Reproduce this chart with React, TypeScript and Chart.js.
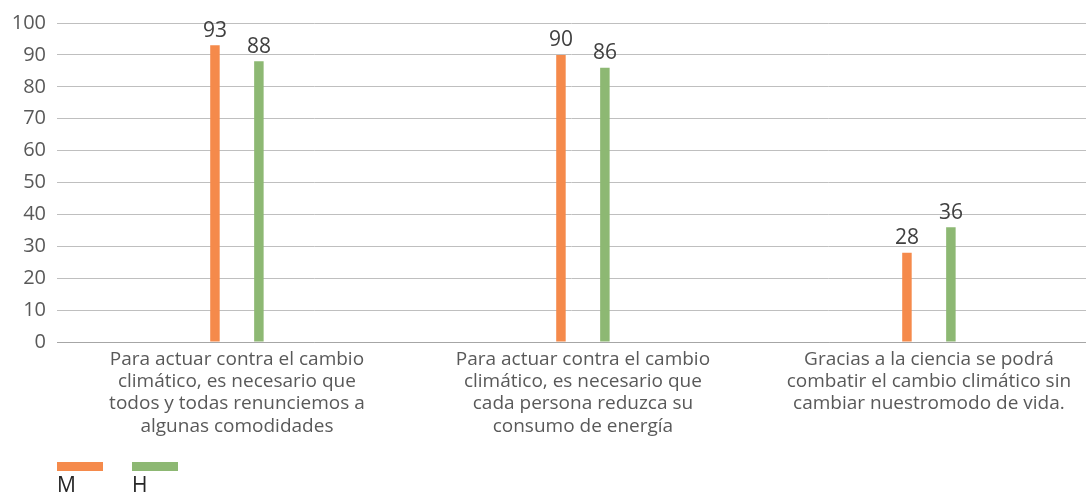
import React, { useEffect, useRef } from "react";
import { Chart, registerables } from "chart.js";

Chart.register(...registerables);

const categories: string[][] = [
  ["Para actuar contra el cambio", "climático, es necesario que", "todos y todas renunciemos a", "algunas comodidades"],
  ["Para actuar contra el cambio", "climático, es necesario que", "cada persona reduzca su", "consumo de energía"],
  ["Gracias a la ciencia se podrá", "combatir el cambio climático sin", "cambiar nuestromodo de vida."],
];
const seriesNames = ["M", "H"];
const valuesM = [93, 90, 28];
const valuesH = [88, 86, 36];
const yTicks = [0, 10, 20, 30, 40, 50, 60, 70, 80, 90, 100];

const COLORS = ["#F58A4B", "#8DB873"];
const FONT = "'Open Sans', sans-serif";

const valueLabels = {
  id: "valueLabels",
  afterDatasetsDraw(chart: any) {
    const ctx = chart.ctx;
    ctx.save();
    ctx.font = `21px ${FONT}`;
    ctx.fillStyle = "#404040";
    ctx.textAlign = "center";
    ctx.textBaseline = "bottom";
    chart.data.datasets.forEach((ds: any, i: number) => {
      const meta = chart.getDatasetMeta(i);
      meta.data.forEach((bar: any, j: number) => {
        ctx.fillText(String(ds.data[j].y), bar.x, bar.y - 4);
      });
    });
    ctx.restore();
  },
};

const bottomLegend = {
  id: "bottomLegend",
  afterDraw(chart: any) {
    const ctx = chart.ctx;
    const left = chart.chartArea.left;
    ctx.save();
    chart.data.datasets.forEach((ds: any, i: number) => {
      const x = left + i * 75;
      ctx.fillStyle = ds.backgroundColor;
      ctx.fillRect(x, 462, 46, 9);
      ctx.font = `21px ${FONT}`;
      ctx.fillStyle = "#262626";
      ctx.textAlign = "left";
      ctx.textBaseline = "alphabetic";
      ctx.fillText(ds.label, x, 492);
    });
    ctx.restore();
  },
};

export default function App() {
  const ref = useRef<HTMLCanvasElement>(null);
  useEffect(() => {
    if (!ref.current) return;
    const chart = new Chart(ref.current, {
      type: "bar",
      data: {
        datasets: [valuesM, valuesH].map((vals, i) => ({
          label: seriesNames[i],
          data: vals.map((v, j) => ({ x: j, y: v })),
          backgroundColor: COLORS[i],
          borderWidth: 0,
          categoryPercentage: 0.254,
          barPercentage: 0.216,
        })),
      },
      options: {
        animation: false,
        responsive: false,
        maintainAspectRatio: false,
        layout: { padding: { top: 23, left: 0, right: 0, bottom: 0 } },
        plugins: { legend: { display: false }, tooltip: { enabled: false } },
        scales: {
          x: {
            type: "linear",
            offset: false,
            bounds: "ticks",
            min: -0.52,
            max: 2.454,
            grid: { display: false, offset: false },
            border: { display: true, color: "#a6a6a6", width: 1 },
            afterFit: (s: any) => { s.height = 152; },
            ticks: {
              stepSize: 1,
              includeBounds: false,
              autoSkip: false,
              maxRotation: 0,
              padding: -2,
              color: "#595959",
              font: { family: FONT, size: 19, lineHeight: 1.18 },
              callback: (v: any) => (Number.isInteger(v) && categories[v] ? categories[v] : ""),
            },
          },
          y: {
            min: 0,
            max: 100,
            afterFit: (s: any) => { s.width = 57; },
            afterBuildTicks: (s: any) => { s.ticks = yTicks.map((v) => ({ value: v })); },
            grid: { color: "#bfbfbf", drawTicks: false, lineWidth: 1 },
            border: { display: false },
            ticks: {
              padding: 11,
              color: "#595959",
              font: { family: FONT, size: 20 },
            },
          },
        },
      },
      plugins: [valueLabels, bottomLegend],
    });
    return () => chart.destroy();
  }, []);
  return (
    <div style={{ position: "fixed", left: 0, top: 0, width: 1086, height: 494, overflow: "hidden", background: "#fff" }}>
      <canvas ref={ref} width={1086} height={494} style={{ width: 1086, height: 494, display: "block" }} />
    </div>
  );
}
